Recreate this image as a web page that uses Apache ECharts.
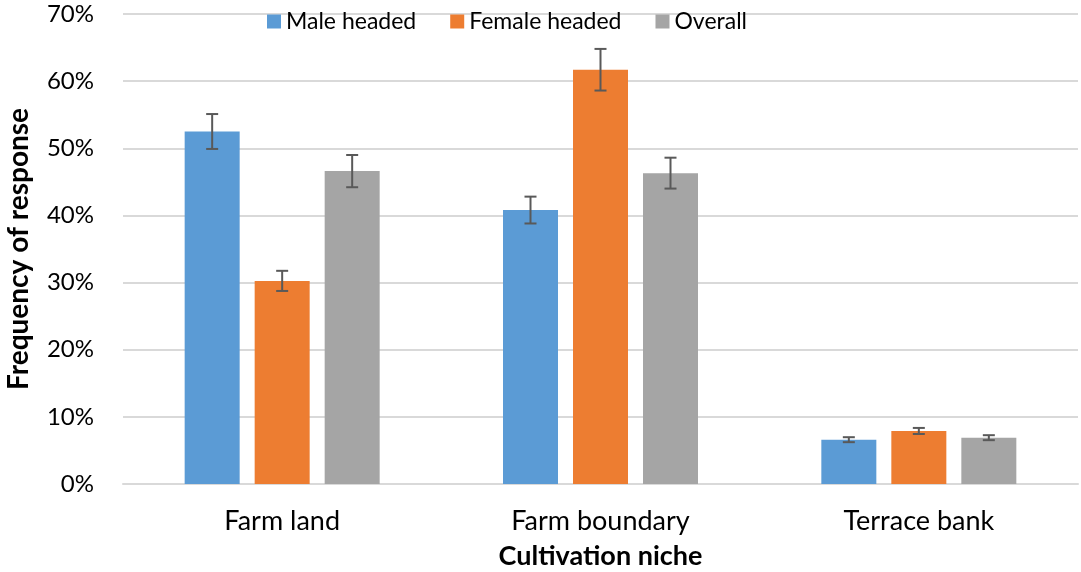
<!DOCTYPE html>
<html>
<head>
<meta charset="utf-8">
<script src="https://cdn.jsdelivr.net/npm/echarts@6/dist/echarts.min.js"></script>
<style>
  html, body { margin: 0; padding: 0; background: #fff; }
  #chart { width: 1081px; height: 572px; }
</style>
</head>
<body>
<div id="chart"></div>
<script>
    // data (percent)
    var categories = ['Farm land', 'Farm boundary', 'Terrace bank'];
    var seriesNames = ['Male headed', 'Female headed', 'Overall'];
    var maleValues = [52.5, 40.8, 6.6];
    var femaleValues = [30.25, 61.7, 7.9];
    var overallValues = [46.6, 46.3, 6.9];
    var maleErr = [2.6, 2.0, 0.37];
    var femaleErr = [1.5, 3.1, 0.45];
    var overallErr = [2.4, 2.3, 0.37];
    var yTicks = [0, 10, 20, 30, 40, 50, 60, 70];

    var colors = ['#5B9BD5', '#ED7D31', '#A5A5A5'];
    var values = [maleValues, femaleValues, overallValues];
    var errors = [maleErr, femaleErr, overallErr];

    var barWidth = 55;
    var barGap = 15;
    var fontFam = 'Lato, "Open Sans", sans-serif';

    var chart = echarts.init(document.getElementById('chart'));

    var series = [];
    values.forEach(function (vals, i) {
        series.push({
            name: seriesNames[i],
            type: 'bar',
            data: vals,
            barWidth: barWidth,
            barGap: (barGap / barWidth * 100) + '%',
            itemStyle: { color: colors[i] },
            emphasis: { disabled: true }
        });
    });
    // error bars
    values.forEach(function (vals, i) {
        var offset = (i - 1) * (barWidth + barGap);
        series.push({
            type: 'custom',
            name: seriesNames[i] + ' err',
            silent: true,
            z: 10,
            data: vals.map(function (v, j) { return [j, v - errors[i][j], v + errors[i][j]]; }),
            renderItem: function (params, api) {
                var lo = api.coord([api.value(0), api.value(1)]);
                var hi = api.coord([api.value(0), api.value(2)]);
                var x = lo[0] + offset;
                var cap = 6;
                var style = { stroke: '#595959', lineWidth: 2 };
                return {
                    type: 'group',
                    children: [
                        { type: 'line', shape: { x1: x, y1: lo[1], x2: x, y2: hi[1] }, style: style },
                        { type: 'line', shape: { x1: x - cap, y1: lo[1], x2: x + cap, y2: lo[1] }, style: style },
                        { type: 'line', shape: { x1: x - cap, y1: hi[1], x2: x + cap, y2: hi[1] }, style: style }
                    ]
                };
            }
        });
    });

    chart.setOption({
        backgroundColor: '#fff',
        animation: false,
        legend: {
            data: seriesNames,
            top: 5,
            left: 262,
            itemWidth: 14,
            itemHeight: 14,
            itemGap: 34,
            icon: 'rect',
            textStyle: { fontFamily: fontFam, fontSize: 23, color: '#000' }
        },
        grid: { left: 123, right: 3, top: 14, bottom: 88, outerBoundsMode: 'none', containLabel: false },
        xAxis: {
            type: 'category',
            data: categories,
            name: 'Cultivation niche',
            nameLocation: 'middle',
            nameGap: 59,
            nameTextStyle: { fontFamily: fontFam, fontSize: 27, fontWeight: 'bold', color: '#000' },
            axisTick: { show: false },
            axisLine: { lineStyle: { color: '#d9d9d9', width: 2 } },
            axisLabel: { fontFamily: fontFam, fontSize: 27, color: '#000', margin: 24 }
        },
        yAxis: {
            type: 'value',
            min: yTicks[0],
            max: yTicks[yTicks.length - 1],
            interval: 10,
            name: 'Frequency of response',
            nameLocation: 'middle',
            nameGap: 90,
            nameTextStyle: { fontFamily: fontFam, fontSize: 28, fontWeight: 'bold', color: '#000' },
            axisLine: { show: false },
            axisTick: { show: false },
            splitLine: { lineStyle: { color: '#d9d9d9', width: 2 } },
            axisLabel: {
                fontFamily: fontFam, fontSize: 24, color: '#000', margin: 29,
                formatter: function (v) { return v + '%'; }
            }
        },
        series: series
    });
</script>
</body>
</html>
